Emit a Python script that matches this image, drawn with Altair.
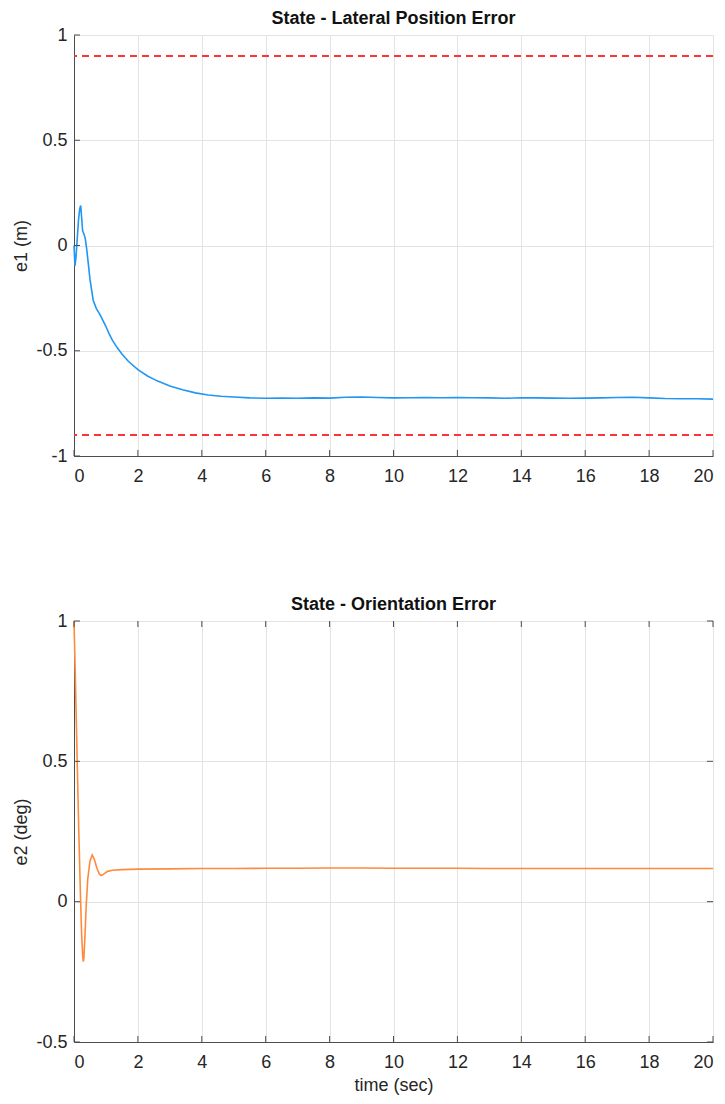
import altair as alt
import pandas as pd

# ---- data ----
t1 = [0, 0.03, 0.06, 0.1, 0.14, 0.18, 0.21, 0.24, 0.27, 0.31, 0.35, 0.4, 0.45, 0.5,
      0.6, 0.7, 0.8, 0.9, 1.0, 1.1, 1.2, 1.35, 1.5, 1.7, 2.0, 2.3, 2.6, 3.0, 3.4, 3.8,
      4.2, 4.6, 5.0, 5.5, 6.0, 6.5, 7, 7.5, 8, 8.5, 9, 9.5, 10, 10.5, 11, 11.5, 12,
      12.5, 13, 13.5, 14, 14.5, 15, 15.5, 16, 16.5, 17, 17.5, 18, 18.5, 19, 19.5, 20]
e1 = [0.0, -0.097, -0.06, 0.03, 0.12, 0.175, 0.19, 0.13, 0.07, 0.055, 0.035, -0.02,
      -0.09, -0.16, -0.26, -0.30, -0.325, -0.355, -0.385, -0.42, -0.45, -0.485,
      -0.515, -0.55, -0.59, -0.62, -0.643, -0.667, -0.685, -0.70, -0.71, -0.716,
      -0.72, -0.724, -0.726, -0.725, -0.726, -0.724, -0.725, -0.721, -0.72, -0.722,
      -0.724, -0.723, -0.722, -0.723, -0.722, -0.723, -0.724, -0.726, -0.723,
      -0.724, -0.725, -0.726, -0.725, -0.724, -0.722, -0.721, -0.724, -0.727,
      -0.728, -0.728, -0.73]

t2 = [0, 0.05, 0.1, 0.15, 0.2, 0.24, 0.27, 0.29, 0.31, 0.34, 0.38, 0.43, 0.5, 0.57,
      0.64, 0.72, 0.8, 0.86, 0.95, 1.05, 1.2, 1.5, 2, 3, 4, 5, 6, 7, 8, 9, 10, 11,
      12, 13, 14, 15, 16, 17, 18, 19, 20]
e2 = [1.0, 0.76, 0.5, 0.25, 0.03, -0.12, -0.19, -0.214, -0.2, -0.13, -0.02, 0.08,
      0.145, 0.166, 0.15, 0.118, 0.097, 0.093, 0.1, 0.108, 0.112, 0.114, 0.116,
      0.117, 0.118, 0.118, 0.119, 0.119, 0.12, 0.12, 0.119, 0.119, 0.119, 0.118,
      0.118, 0.118, 0.118, 0.118, 0.118, 0.118, 0.118]

limits = [0.9, -0.9]
x_ticks = [0, 2, 4, 6, 8, 10, 12, 14, 16, 18, 20]
y1_ticks = [-1, -0.5, 0, 0.5, 1]
y2_ticks = [-0.5, 0, 0.5, 1]

W, H = 639, 421
FONT = "Liberation Sans"
AX = "#4d4d4d"
GRID = "#e3e3e3"
LBL = "#262626"
FS = 18

df1 = pd.DataFrame({"t": t1, "v": e1})
df2 = pd.DataFrame({"t": t2, "v": e2})
dlim = pd.DataFrame({"v": limits})
dxt = pd.DataFrame({"t": x_ticks})
dy1 = pd.DataFrame({"v": y1_ticks})
dy2 = pd.DataFrame({"v": y2_ticks})

label_expr = "'' + datum.value"


def xaxis(title=None):
    kw = dict(values=x_ticks, grid=True, gridColor=GRID, ticks=False, domainColor=AX,
              labelFont=FONT, labelFontSize=FS, labelColor=LBL, labelPadding=11,
              labelExpr=label_expr, titleFont=FONT, titleFontSize=FS,
              titleFontWeight="normal", titleColor=LBL, titlePadding=5)
    if title:
        return alt.Axis(title=title, **kw)
    return alt.Axis(title=None, **kw)


def yaxis(title, vals):
    return alt.Axis(title=title, values=vals, grid=True, gridColor=GRID, ticks=False,
                    domainColor=AX, labelFont=FONT, labelFontSize=FS, labelColor=LBL,
                    labelPadding=7, labelExpr=label_expr, titleFont=FONT,
                    titleFontSize=FS, titleFontWeight="normal", titleColor=LBL,
                    titlePadding=5)


def ptitle(text):
    return alt.TitleParams(text, font=FONT, fontSize=18, fontWeight="bold",
                           color="#111", offset=-2)


# ---- top panel ----
xs1 = alt.Scale(domain=[0, 20], nice=False)
ys1 = alt.Scale(domain=[-1, 1], nice=False)

line1 = alt.Chart(df1).mark_line(color="#2196F3", strokeWidth=1.6).encode(
    x=alt.X("t:Q", scale=xs1, axis=xaxis()),
    y=alt.Y("v:Q", scale=ys1, axis=yaxis("e1 (m)", y1_ticks)),
)
lim = alt.Chart(dlim).mark_rule(color="#FF3333", strokeWidth=2, strokeDash=[7, 5]).encode(
    y=alt.Y("v:Q", scale=ys1)
)
xt1 = alt.Chart(dxt).mark_rule(color=AX, strokeWidth=1).encode(
    x=alt.X("t:Q", scale=xs1), y=alt.value(H), y2=alt.value(H - 6)
)
yt1 = alt.Chart(dy1).mark_rule(color=AX, strokeWidth=1).encode(
    y=alt.Y("v:Q", scale=ys1), x=alt.value(0), x2=alt.value(6)
)
top = alt.layer(lim, line1, xt1, yt1).properties(
    width=W, height=H,
    title=ptitle("State - Lateral Position Error"),
    view=alt.ViewBackground(stroke=GRID, strokeWidth=1),
)

# ---- bottom panel ----
xs2 = alt.Scale(domain=[0, 20], nice=False)
ys2 = alt.Scale(domain=[-0.5, 1], nice=False)

line2 = alt.Chart(df2).mark_line(color="#FF8A3D", strokeWidth=1.6).encode(
    x=alt.X("t:Q", scale=xs2, axis=xaxis("time (sec)")),
    y=alt.Y("v:Q", scale=ys2, axis=yaxis("e2 (deg)", y2_ticks)),
)
xt2b = alt.Chart(dxt).mark_rule(color=AX, strokeWidth=1).encode(
    x=alt.X("t:Q", scale=xs2), y=alt.value(H), y2=alt.value(H - 6)
)
xt2t = alt.Chart(dxt).mark_rule(color=AX, strokeWidth=1).encode(
    x=alt.X("t:Q", scale=xs2), y=alt.value(0), y2=alt.value(6)
)
yt2l = alt.Chart(dy2).mark_rule(color=AX, strokeWidth=1).encode(
    y=alt.Y("v:Q", scale=ys2), x=alt.value(0), x2=alt.value(6)
)
yt2r = alt.Chart(dy2).mark_rule(color=AX, strokeWidth=1).encode(
    y=alt.Y("v:Q", scale=ys2), x=alt.value(W), x2=alt.value(W - 6)
)
bottom = alt.layer(line2, xt2b, xt2t, yt2l, yt2r).properties(
    width=W, height=H,
    title=ptitle("State - Orientation Error"),
    view=alt.ViewBackground(stroke=AX, strokeWidth=1),
)

chart = alt.vconcat(top, bottom, spacing=109).properties(
    padding={"left": 12, "top": 9, "right": 4, "bottom": 2},
    background="white",
).configure_title(anchor="middle")

chart.save("out.html", embed_options={"renderer": "svg", "actions": False})
